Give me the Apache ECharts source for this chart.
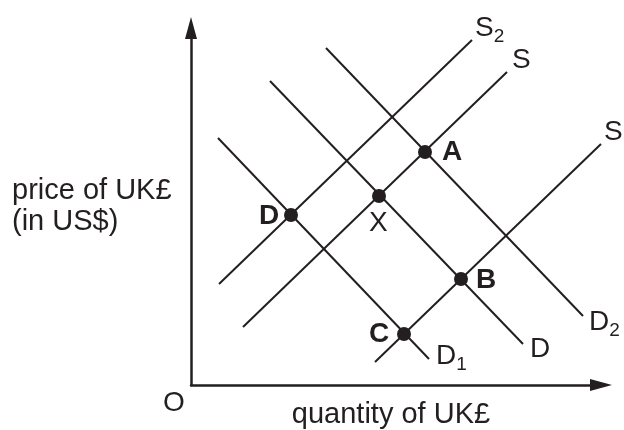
<!DOCTYPE html>
<html>
<head>
<meta charset="utf-8">
<script src="https://cdn.jsdelivr.net/npm/echarts@6/dist/echarts.min.js"></script>
<style>
html, body { margin: 0; padding: 0; background: #fff; }
#chart { width: 624px; height: 430px; }
</style>
</head>
<body>
<div id="chart"></div>
<script>
// curves: start / end points in chart units, label text and where its left edge sits
const curveNames = ['S2', 'S', 'S', 'D2', 'D', 'D1'];
const curveStart = [[28, 101], [52, 58], [184, 23], [135, 337], [79, 304], [27, 247]];
const curveEnd = [[281, 345], [316, 313], [410, 241], [392, 69], [332, 41], [238, 26]];
const curveLabelAt = [[284, 357], [321, 325], [413, 253], [398, 63], [339, 36], [245, 29]];

// equilibrium points
const pointNames = ['A', 'X', 'D', 'B', 'C'];
const pointX = [234, 188, 100, 270, 213];
const pointY = [233, 189, 170, 106, 51];
const pointLabelAt = [[251, 233], [178, 162], [68, 169], [285, 105], [178, 51]];
const pointBold = [true, false, true, true, true];

const ink = '#231f20';
const font = 'Liberation Sans, Arial, sans-serif';

let myChart = echarts.init(document.getElementById('chart'));

let lineSeries = curveNames.map(function (n, i) {
    return {
        type: 'line',
        name: n,
        symbol: 'none',
        silent: true,
        lineStyle: { color: ink, width: 2 },
        data: [curveStart[i], curveEnd[i]]
    };
});

// labels like S2 / D1 get a subscript
function labelText(s) {
    if (s.length > 1) {
        return '{m|' + s[0] + '}{s|' + s.slice(1) + '}';
    }
    return '{m|' + s + '}';
}

let textItems = [];
curveNames.forEach(function (n, i) {
    textItems.push({ text: labelText(n), at: curveLabelAt[i], bold: false });
});
pointNames.forEach(function (n, i) {
    textItems.push({ text: labelText(n), at: pointLabelAt[i], bold: pointBold[i] });
});
textItems.push({ text: '{m|O}', at: [-28, -18], bold: false });

let axisCommon = {
    type: 'value',
    min: 0,
    axisLine: {
        show: true,
        symbol: ['none', 'triangle'],
        symbolSize: [12, 22],
        lineStyle: { color: ink, width: 2.5 }
    },
    axisTick: { show: false },
    axisLabel: { show: false },
    splitLine: { show: false }
};

let option = {
    animation: false,
    grid: { left: 191, top: 28, width: 410, height: 357, outerBoundsMode: 'none' },
    xAxis: Object.assign({}, axisCommon, {
        max: 410,
        name: 'quantity of UK£',
        nameLocation: 'middle',
        nameGap: 15,
        nameTextStyle: { color: ink, fontSize: 29, fontFamily: font, padding: [0, 10, 0, 0] }
    }),
    yAxis: Object.assign({}, axisCommon, {
        max: 357,
        name: 'price of UK£\n(in US$)',
        nameLocation: 'middle',
        nameRotate: 0,
        nameGap: 179,
        nameTextStyle: {
            color: ink, fontSize: 29, fontFamily: font, align: 'left',
            lineHeight: 31, padding: [0, 0, 6, 0]
        }
    }),
    series: lineSeries.concat([{
        type: 'scatter',
        symbol: 'circle',
        symbolSize: 14,
        z: 5,
        itemStyle: { color: ink, opacity: 1 },
        silent: true,
        data: pointX.map(function (x, i) { return [x, pointY[i]]; })
    }, {
        type: 'custom',
        silent: true,
        clip: false,
        z: 6,
        data: textItems.map(function (t) { return t.at; }),
        renderItem: function (params, api) {
            let t = textItems[params.dataIndex];
            let p = api.coord([api.value(0), api.value(1)]);
            let w = t.bold ? 'bold' : 'normal';
            return {
                type: 'text',
                x: p[0],
                y: p[1],
                style: {
                    text: t.text,
                    align: 'left',
                    verticalAlign: 'middle',
                    fill: ink,
                    rich: {
                        m: { fontSize: 28, fontWeight: w, fontFamily: font, fill: ink, lineHeight: 36 },
                        s: { fontSize: 19, fontFamily: font, fill: ink, lineHeight: 36, verticalAlign: 'bottom' }
                    }
                }
            };
        }
    }])
};
myChart.setOption(option);
</script>
</body>
</html>
